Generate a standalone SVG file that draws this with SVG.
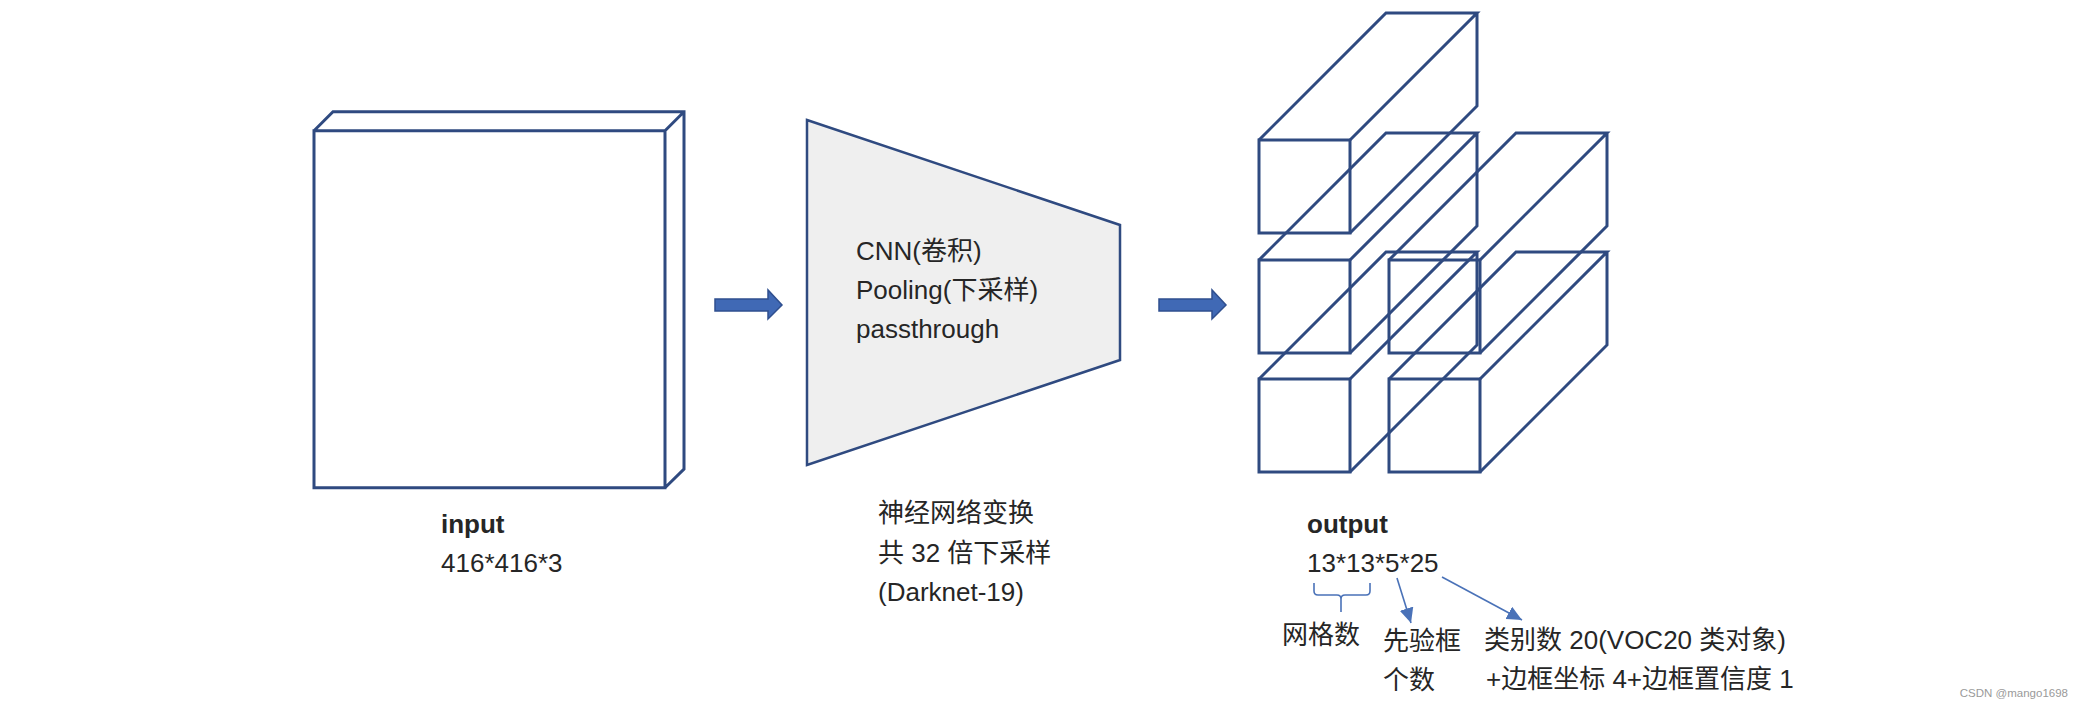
<svg xmlns="http://www.w3.org/2000/svg" width="2084" height="710" viewBox="0 0 2084 710">
  <style>
    .box { fill: none; stroke: #2F4A80; stroke-width: 3; stroke-linejoin: miter; }
    .trap { fill: #EFEFEF; stroke: #2F4A80; stroke-width: 2.5; }
    .block { fill: #4069B5; stroke: #2F4F8F; stroke-width: 1.5; }
    .thin { fill: none; stroke: #4A72B8; stroke-width: 1.6; }
    .t { font-family: "Liberation Sans", "Noto Sans CJK SC", sans-serif; font-size: 26px; fill: #262626; }
    .b { font-weight: bold; }
    .wm { font-family: "Liberation Sans", "Noto Sans", sans-serif; font-size: 11.5px; fill: #9a9a9a; }
  </style>
  <defs>
    <marker id="head" markerUnits="userSpaceOnUse" markerWidth="16" markerHeight="14" refX="15" refY="7" orient="auto">
      <path d="M0,0 L15,7 L0,14 z" fill="#4A72B8"/>
    </marker>
    <g id="cuboid">
      <rect x="0" y="0" width="91" height="93"/>
      <path d="M0,0 L127,-127 L218,-127 L91,0 M218,-127 L218,-34 L91,93"/>
    </g>
  </defs>
  <rect width="2084" height="710" fill="#ffffff"/>

  <g id="input">
    <path class="box" d="M314,130.7 H665 V487.7 H314 Z M314,130.7 L333,111.7 H684 V469 L665,487.7 M665,130.7 L684,111.7"/>
    <text class="t b" x="441" y="533">input</text>
    <text class="t" x="441" y="572">416*416*3</text>
  </g>

  <g id="network">
    <polygon class="trap" points="807,120 1120,225 1120,360 807,465"/>
    <text class="t" x="856" y="260">CNN(卷积)</text>
    <text class="t" x="856" y="299">Pooling(下采样)</text>
    <text class="t" x="856" y="338">passthrough</text>
    <text class="t" x="878" y="522">神经网络变换</text>
    <text class="t" x="878" y="562">共 32 倍下采样</text>
    <text class="t" x="878" y="601">(Darknet-19)</text>
  </g>

  <g id="output">
    <g class="box">
      <use href="#cuboid" x="1259" y="140"/>
      <use href="#cuboid" x="1259" y="260"/>
      <use href="#cuboid" x="1259" y="379"/>
      <use href="#cuboid" x="1389" y="260"/>
      <use href="#cuboid" x="1389" y="379"/>
    </g>
    <text class="t b" x="1307" y="533">output</text>
    <text class="t" x="1307" y="572">13*13*5*25</text>
  </g>

  <g id="labels">
    <text class="t" x="1282" y="644">网格数</text>
    <text class="t" x="1383" y="650">先验框</text>
    <text class="t" x="1383" y="689">个数</text>
    <text class="t" x="1484" y="649">类别数 20(VOC20 类对象)</text>
    <text class="t" x="1486" y="688">+边框坐标 4+边框置信度 1</text>
  </g>

  <g id="connectors">
    <polygon class="block" points="715,299 768,299 768,290 782,305 768,319 768,311 715,311"/>
    <polygon class="block" points="1159,299 1212,299 1212,290 1226,305 1212,319 1212,311 1159,311"/>
    <path class="thin" d="M1314,583 L1314,591 Q1314,595 1318,595 L1337,595 Q1341,595 1341,599 L1341,612 M1341,599 Q1341,595 1345,595 L1366,595 Q1370,595 1370,591 L1370,583"/>
    <line class="thin" x1="1397" y1="578" x2="1411" y2="623" marker-end="url(#head)"/>
    <line class="thin" x1="1442" y1="577" x2="1522" y2="620" marker-end="url(#head)"/>
  </g>

  <text class="wm" x="2068" y="697" text-anchor="end">CSDN @mango1698</text>
</svg>
